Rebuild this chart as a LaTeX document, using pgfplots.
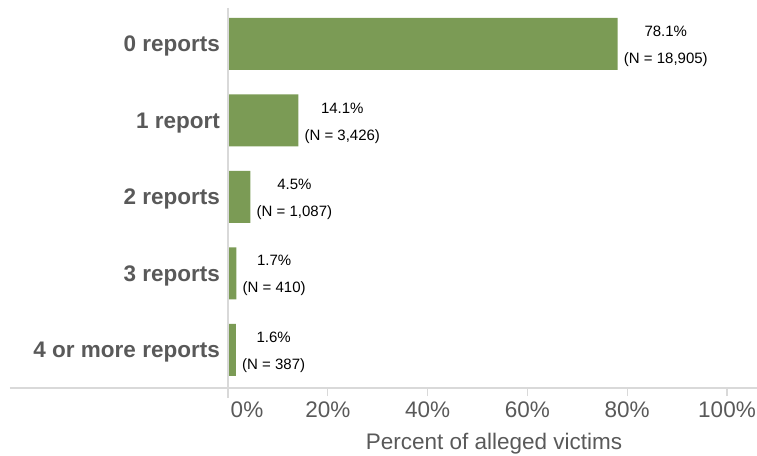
\documentclass[border=0pt]{standalone}
\usepackage{pgfplots}
\pgfplotsset{compat=1.18}
\usepackage{fontspec}
\setmainfont{Liberation Sans}
\definecolor{bargreen}{HTML}{7B9B55}
\definecolor{txtgray}{HTML}{595959}
\definecolor{axgray}{HTML}{D9D9D9}
\begin{document}
\begin{tikzpicture}
\path[use as bounding box] (0,0) rectangle (757bp,456bp);
\begin{axis}[
  at={(228bp,68bp)}, anchor=south west,
  scale only axis, width=499bp, height=380bp,
  xmin=0, xmax=100, ymin=-0.47, ymax=4.5, y dir=reverse,
  xbar, bar width=52bp,
  clip=false,
  axis x line*=bottom, axis y line*=left,
  axis line style={draw=none},
  /pgf/number format/assume math mode=true,
  xtick={20,40,60,80,100},
  xticklabels={20\%,40\%,60\%,80\%,100\%},
  extra x ticks={0}, extra x tick labels={0\%},
  extra x tick style={xticklabel style={xshift=19bp}},
  tick align=outside, major tick length=8bp,
  x tick style={draw=axgray, line width=1.2bp},
  xticklabel style={font=\fontsize{22.5bp}{27bp}\selectfont, text=txtgray, anchor=base, yshift=-21bp, inner sep=0pt},
  ytick={0,1,2,3,4},
  yticklabels={0 reports,1 report,2 reports,3 reports,4 or more reports},
  y tick style={draw=none},
  yticklabel style={font=\fontsize{22.5bp}{27bp}\selectfont\bfseries, text=txtgray, anchor=base east, inner sep=0pt, xshift=0bp, yshift=-8bp},
  xlabel={Percent of alleged victims},
  xlabel style={at={(axis cs:53.3,4.5)}, anchor=base, yshift=-61bp, font=\fontsize{22.5bp}{27bp}\selectfont, text=txtgray, inner sep=0pt},
  point meta=explicit symbolic,
  nodes near coords,
  nodes near coords style={font=\fontsize{15bp}{27bp}\selectfont, text=black, align=center, anchor=west, inner sep=0pt, xshift=6bp, yshift=-2.5bp},
]
\addplot[fill=bargreen, draw=none] coordinates {
  (78.1,0) [78.1\%\\(N = 18,905)]
  (14.1,1) [14.1\%\\(N = 3,426)]
  (4.5,2) [4.5\%\\(N = 1,087)]
  (1.7,3) [1.7\%\\(N = 410)]
  (1.6,4) [1.6\%\\(N = 387)]
};
\draw[axgray, line width=1.5bp] (axis cs:0,-0.47) -- (axis cs:0,4.63);
\draw[axgray, line width=1.5bp] (axis cs:-43.7,4.5) -- (axis cs:106,4.5);
\end{axis}
\end{tikzpicture}
\end{document}
